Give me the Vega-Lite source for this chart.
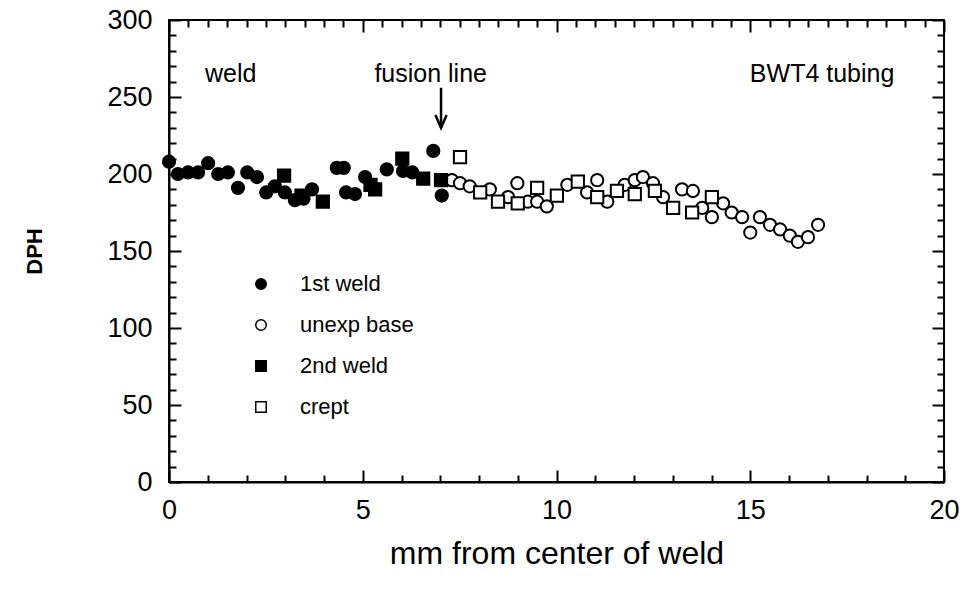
{
  "$schema": "https://vega.github.io/schema/vega-lite/v6.json",
  "width": 775,
  "height": 462,
  "autosize": {"type": "none"},
  "padding": {"left": 169, "top": 20, "right": 20, "bottom": 111},
  "background": "white",
  "config": {
    "view": {"stroke": "black", "strokeWidth": 2},
    "font": "Liberation Sans",
    "axis": {"domainColor": "black", "domainWidth": 2, "tickColor": "black", "tickWidth": 2, "labelColor": "black", "titleColor": "black", "grid": false, "labelFont": "Liberation Sans", "titleFont": "Liberation Sans"}
  },
  "datasets": {
    "pts": [
      {"series": "1st weld", "mm": 0, "dph": 208},
      {"series": "1st weld", "mm": 0.23, "dph": 200},
      {"series": "1st weld", "mm": 0.49, "dph": 201},
      {"series": "1st weld", "mm": 0.75, "dph": 201},
      {"series": "1st weld", "mm": 1.01, "dph": 207},
      {"series": "1st weld", "mm": 1.27, "dph": 200},
      {"series": "1st weld", "mm": 1.52, "dph": 201},
      {"series": "1st weld", "mm": 1.78, "dph": 191},
      {"series": "1st weld", "mm": 2.02, "dph": 201},
      {"series": "1st weld", "mm": 2.27, "dph": 198},
      {"series": "1st weld", "mm": 2.51, "dph": 188},
      {"series": "1st weld", "mm": 2.73, "dph": 192},
      {"series": "1st weld", "mm": 2.99, "dph": 188},
      {"series": "1st weld", "mm": 3.25, "dph": 183},
      {"series": "1st weld", "mm": 3.47, "dph": 184},
      {"series": "1st weld", "mm": 3.69, "dph": 190},
      {"series": "1st weld", "mm": 4.33, "dph": 204},
      {"series": "1st weld", "mm": 4.51, "dph": 204},
      {"series": "1st weld", "mm": 4.57, "dph": 188},
      {"series": "1st weld", "mm": 4.8, "dph": 187},
      {"series": "1st weld", "mm": 5.06, "dph": 198},
      {"series": "1st weld", "mm": 5.62, "dph": 203},
      {"series": "1st weld", "mm": 6.04, "dph": 202},
      {"series": "1st weld", "mm": 6.28, "dph": 201},
      {"series": "1st weld", "mm": 6.82, "dph": 215},
      {"series": "1st weld", "mm": 7.04, "dph": 186},
      {"series": "unexp base", "mm": 7.3, "dph": 196},
      {"series": "unexp base", "mm": 7.51, "dph": 194},
      {"series": "unexp base", "mm": 7.76, "dph": 192},
      {"series": "unexp base", "mm": 8.28, "dph": 190},
      {"series": "unexp base", "mm": 8.75, "dph": 185},
      {"series": "unexp base", "mm": 8.99, "dph": 194},
      {"series": "unexp base", "mm": 9.26, "dph": 182},
      {"series": "unexp base", "mm": 9.5, "dph": 182},
      {"series": "unexp base", "mm": 9.75, "dph": 179},
      {"series": "unexp base", "mm": 10.28, "dph": 193},
      {"series": "unexp base", "mm": 10.79, "dph": 188},
      {"series": "unexp base", "mm": 11.05, "dph": 196},
      {"series": "unexp base", "mm": 11.31, "dph": 182},
      {"series": "unexp base", "mm": 11.76, "dph": 193},
      {"series": "unexp base", "mm": 12.02, "dph": 196},
      {"series": "unexp base", "mm": 12.23, "dph": 198},
      {"series": "unexp base", "mm": 12.49, "dph": 194},
      {"series": "unexp base", "mm": 12.75, "dph": 185},
      {"series": "unexp base", "mm": 13.24, "dph": 190},
      {"series": "unexp base", "mm": 13.52, "dph": 189},
      {"series": "unexp base", "mm": 13.76, "dph": 178},
      {"series": "unexp base", "mm": 14.01, "dph": 172},
      {"series": "unexp base", "mm": 14.3, "dph": 181},
      {"series": "unexp base", "mm": 14.52, "dph": 175},
      {"series": "unexp base", "mm": 14.79, "dph": 172},
      {"series": "unexp base", "mm": 15.0, "dph": 162},
      {"series": "unexp base", "mm": 15.25, "dph": 172},
      {"series": "unexp base", "mm": 15.51, "dph": 167},
      {"series": "unexp base", "mm": 15.77, "dph": 164},
      {"series": "unexp base", "mm": 16.02, "dph": 160},
      {"series": "unexp base", "mm": 16.23, "dph": 156},
      {"series": "unexp base", "mm": 16.49, "dph": 159},
      {"series": "unexp base", "mm": 16.75, "dph": 167},
      {"series": "2nd weld", "mm": 2.97, "dph": 199},
      {"series": "2nd weld", "mm": 3.42, "dph": 186},
      {"series": "2nd weld", "mm": 3.97, "dph": 182},
      {"series": "2nd weld", "mm": 5.2, "dph": 193},
      {"series": "2nd weld", "mm": 5.32, "dph": 190},
      {"series": "2nd weld", "mm": 6.02, "dph": 210},
      {"series": "2nd weld", "mm": 6.56, "dph": 197},
      {"series": "2nd weld", "mm": 7.02, "dph": 196},
      {"series": "crept", "mm": 7.51, "dph": 211},
      {"series": "crept", "mm": 8.03, "dph": 188},
      {"series": "crept", "mm": 8.49, "dph": 182},
      {"series": "crept", "mm": 9.0, "dph": 181},
      {"series": "crept", "mm": 9.5, "dph": 191},
      {"series": "crept", "mm": 10.01, "dph": 186},
      {"series": "crept", "mm": 10.55, "dph": 195},
      {"series": "crept", "mm": 11.05, "dph": 185},
      {"series": "crept", "mm": 11.56, "dph": 189},
      {"series": "crept", "mm": 12.02, "dph": 187},
      {"series": "crept", "mm": 12.54, "dph": 189},
      {"series": "crept", "mm": 13.01, "dph": 178},
      {"series": "crept", "mm": 13.5, "dph": 175},
      {"series": "crept", "mm": 14.01, "dph": 185}
    ],
    "notes": [
      {"label": "weld", "mm": 0.93, "dph": 265},
      {"label": "fusion line", "mm": 5.3, "dph": 265},
      {"label": "BWT4 tubing", "mm": 14.99, "dph": 265}
    ],
    "arrow": [
      {"mm": 7.02, "top": 256, "tip": 230}
    ]
  },
  "layer": [
    {
      "data": {"name": "pts"},
      "mark": {"type": "point", "filled": true, "stroke": "black", "strokeWidth": 2, "size": 150, "opacity": 1},
      "encoding": {
        "x": {
          "field": "mm", "type": "quantitative",
          "scale": {"domain": [0, 20], "nice": false, "zero": false},
          "axis": {
            "orient": "bottom", "format": "d",
            "values": [0,0.5,1,1.5,2,2.5,3,3.5,4,4.5,5,5.5,6,6.5,7,7.5,8,8.5,9,9.5,10,10.5,11,11.5,12,12.5,13,13.5,14,14.5,15,15.5,16,16.5,17,17.5,18,18.5,19,19.5,20],
            "tickSize": {"condition": {"test": "datum.value % 5 === 0", "value": -12}, "value": -7},
            "labelExpr": "datum.value % 5 === 0 ? datum.label : ''",
            "labelFontSize": 27, "labelPadding": 27, "labelFlush": false, "labelOverlap": false,
            "title": "mm from center of weld", "titleFontSize": 32, "titleFontWeight": "normal", "titlePadding": 10
          }
        },
        "y": {
          "field": "dph", "type": "quantitative",
          "scale": {"domain": [0, 300], "nice": false},
          "axis": {
            "orient": "left", "format": "d",
            "values": [0,10,20,30,40,50,60,70,80,90,100,110,120,130,140,150,160,170,180,190,200,210,220,230,240,250,260,270,280,290,300],
            "tickSize": {"condition": {"test": "datum.value % 50 === 0", "value": -12}, "value": -7},
            "labelExpr": "datum.value % 50 === 0 ? datum.label : ''",
            "labelFontSize": 27, "labelPadding": 29, "labelFlush": false, "labelOverlap": false,
            "title": "DPH", "titleFontSize": 22, "titleFontWeight": "bold", "titlePadding": 60
          }
        },
        "shape": {
          "field": "series", "type": "nominal",
          "scale": {"domain": ["1st weld", "unexp base", "2nd weld", "crept"], "range": ["circle", "circle", "square", "square"]},
          "legend": {"orient": "none", "legendX": 81, "legendY": 253, "title": null, "padding": 0, "labelFontSize": 22, "labelOffset": 28, "rowPadding": 19, "symbolSize": 110, "labelColor": "black", "labelFont": "Liberation Sans",
            "encode": {"symbols": {"update": {"stroke": {"value": "black"}, "strokeWidth": {"value": 2}}}}}
        },
        "fill": {
          "field": "series", "type": "nominal",
          "scale": {"domain": ["1st weld", "unexp base", "2nd weld", "crept"], "range": ["black", "white", "black", "white"]},
          "legend": {"orient": "none", "legendX": 81, "legendY": 253, "title": null, "padding": 0, "labelFontSize": 22, "labelOffset": 28, "rowPadding": 19, "symbolSize": 110, "labelColor": "black", "labelFont": "Liberation Sans",
            "encode": {"symbols": {"update": {"stroke": {"value": "black"}, "strokeWidth": {"value": 2}}}}}
        }
      }
    },
    {
      "data": {"name": "notes"},
      "mark": {"type": "text", "align": "left", "baseline": "middle", "fontSize": 25, "font": "Liberation Sans", "color": "black"},
      "encoding": {
        "x": {
          "field": "mm", "type": "quantitative",
          "axis": {
            "orient": "top", "labels": false, "title": null, "domain": false,
            "values": [0,0.5,1,1.5,2,2.5,3,3.5,4,4.5,5,5.5,6,6.5,7,7.5,8,8.5,9,9.5,10,10.5,11,11.5,12,12.5,13,13.5,14,14.5,15,15.5,16,16.5,17,17.5,18,18.5,19,19.5,20],
            "tickSize": {"condition": {"test": "datum.value % 5 === 0", "value": -12}, "value": -7}
          }
        },
        "y": {
          "field": "dph", "type": "quantitative",
          "axis": {
            "orient": "right", "labels": false, "title": null, "domain": false,
            "values": [0,10,20,30,40,50,60,70,80,90,100,110,120,130,140,150,160,170,180,190,200,210,220,230,240,250,260,270,280,290,300],
            "tickSize": {"condition": {"test": "datum.value % 50 === 0", "value": -12}, "value": -7}
          }
        },
        "text": {"field": "label", "type": "nominal"}
      }
    },
    {
      "data": {"name": "arrow"},
      "mark": {"type": "rule", "color": "black", "strokeWidth": 2.5},
      "encoding": {
        "x": {"field": "mm", "type": "quantitative", "axis": null},
        "y": {"field": "top", "type": "quantitative", "axis": null},
        "y2": {"field": "tip"}
      }
    },
    {
      "data": {"name": "arrow"},
      "mark": {"type": "point", "shape": "M-0.7,-1.6L0,0L0.7,-1.6", "filled": false, "stroke": "black", "strokeWidth": 2.5, "size": 256, "opacity": 1},
      "encoding": {
        "x": {"field": "mm", "type": "quantitative", "axis": null},
        "y": {"field": "tip", "type": "quantitative", "axis": null}
      }
    }
  ],
  "resolve": {"axis": {"x": "independent", "y": "independent"}}
}
